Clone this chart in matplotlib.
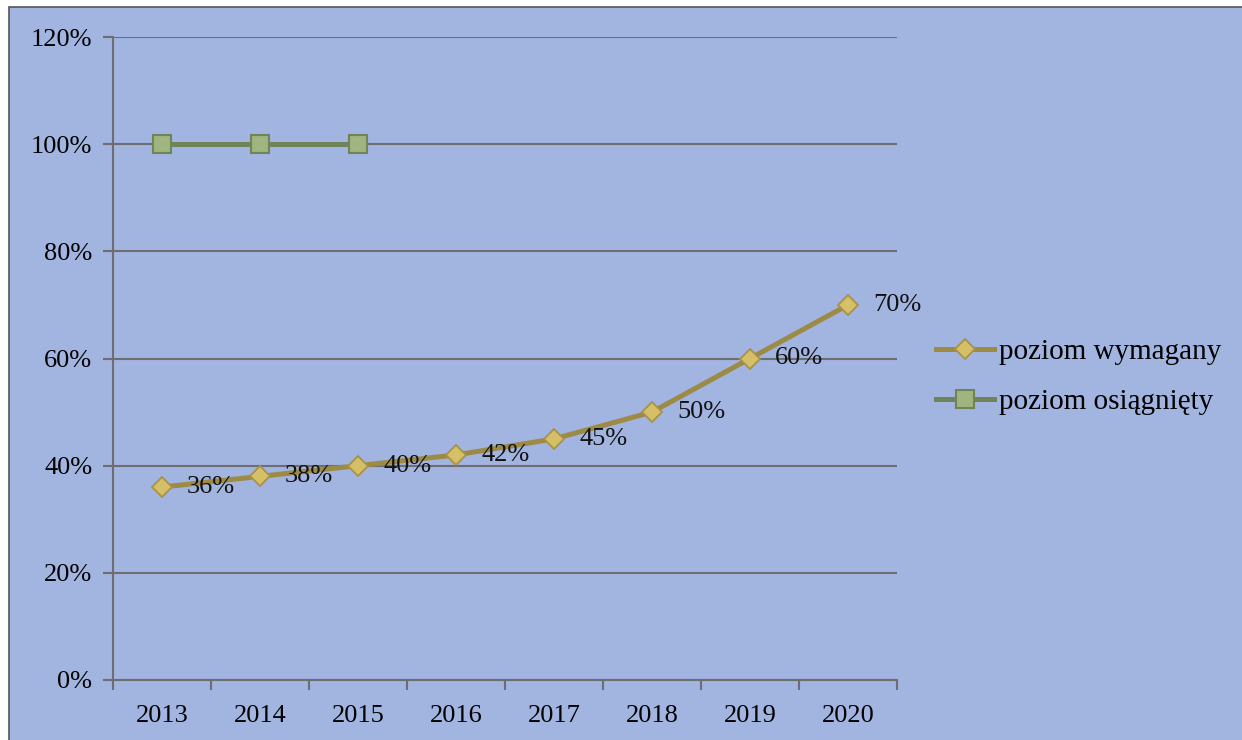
import matplotlib.pyplot as plt
from matplotlib.patches import Rectangle
from matplotlib.ticker import FixedLocator, PercentFormatter

years = ['2013', '2014', '2015', '2016', '2017', '2018', '2019', '2020']
wymagany = [36, 38, 40, 42, 45, 50, 60, 70]
osiagniety = [100, 100, 100]

plt.rcParams['font.family'] = ['Liberation Serif', 'DejaVu Serif']
plt.rcParams['font.size'] = 19

bg = '#A2B5E0'
grid_c = '#6E6E70'

fig = plt.figure(figsize=(12.42, 7.40), dpi=100, facecolor='white')
# blue chart box behind the axes
fig.patches.append(Rectangle((9 / 1242, -0.01), 1.0, 0.9905 + 0.01,
                             transform=fig.transFigure, facecolor=bg,
                             edgecolor='#555555', linewidth=1.2, zorder=-5))

ax = fig.add_axes([113 / 1242, 60 / 740, 784 / 1242, 643 / 740])
ax.set_facecolor('none')

x = list(range(len(years)))
ax.plot(x, wymagany, color='#9C8A45', linewidth=3.6, marker='D', markersize=10,
        markerfacecolor='#D6C067', markeredgecolor='#A8924A', markeredgewidth=1.3,
        label='poziom wymagany', zorder=3)
ax.plot(x[:len(osiagniety)], osiagniety, color='#6F8459', linewidth=3.6, marker='s',
        markersize=13.5, markerfacecolor='#A0B480', markeredgecolor='#6F8459',
        markeredgewidth=1.5, label='poziom osiągnięty', zorder=3)

for xi, v in zip(x, wymagany):
    ax.annotate(f'{v}%', (xi, v), xytext=(18, 0), textcoords='offset points',
                ha='left', va='center', color='#111111', zorder=4)

ax.set_xlim(-0.5, len(years) - 0.5)
ax.set_ylim(0, 120)
ax.yaxis.set_major_locator(FixedLocator(range(0, 121, 20)))
ax.yaxis.set_major_formatter(PercentFormatter(decimals=0))
ax.grid(axis='y', color=grid_c, linewidth=1.5)
ax.set_axisbelow(True)

ax.set_xticks([i - 0.5 for i in range(len(years) + 1)])
ax.set_xticklabels([])
ax.set_xticks(x, minor=True)
ax.set_xticklabels(years, minor=True)
ax.tick_params(axis='x', which='major', length=7, width=1.5, color=grid_c, direction='out')
ax.tick_params(axis='x', which='minor', length=0, pad=18)
ax.tick_params(axis='y', length=7, width=1.5, color=grid_c, pad=8)

for s in ['top', 'right']:
    ax.spines[s].set_visible(False)
for s in ['left', 'bottom']:
    ax.spines[s].set_color(grid_c)
    ax.spines[s].set_linewidth(1.5)

ax.legend(loc='center left', bbox_to_anchor=(1.0497, 0.471), frameon=False,
          fontsize=21, handlelength=2.0, handletextpad=0.15, labelspacing=0.8,
          borderpad=0, borderaxespad=0)

fig.savefig('out.png', dpi=100, facecolor='white')
